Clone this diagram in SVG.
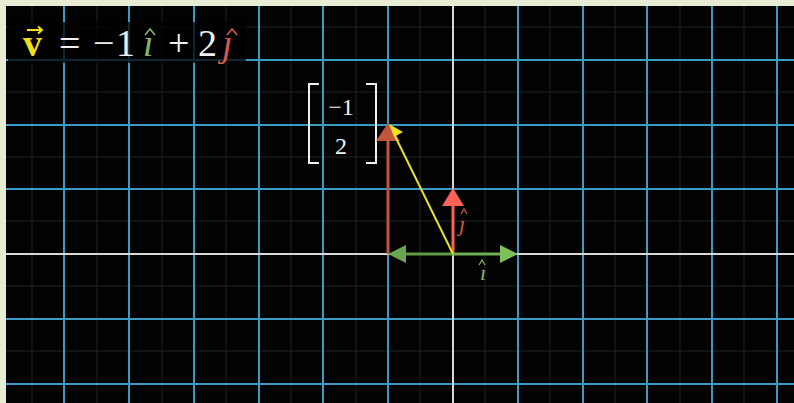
<svg xmlns="http://www.w3.org/2000/svg" width="794" height="403" viewBox="0 0 794 403">
<style>
.minor{stroke:#1e2426;stroke-width:1}
.major{stroke:#3a9cc4;stroke-width:2}
.axis{stroke:#d8d8d8;stroke-width:2}
.tex{font-family:"Liberation Serif","DejaVu Serif",serif}
.eq{font-size:38px}
</style>
<rect x="0" y="0" width="794" height="403" fill="#e8ebd3"/>
<rect x="6" y="6" width="788" height="397" fill="#020202"/>
<g id="grid">
<g class="minor">
<line x1="32" y1="6" x2="32" y2="403"/><line x1="97" y1="6" x2="97" y2="403"/><line x1="162" y1="6" x2="162" y2="403"/><line x1="226" y1="6" x2="226" y2="403"/><line x1="291" y1="6" x2="291" y2="403"/><line x1="356" y1="6" x2="356" y2="403"/><line x1="420" y1="6" x2="420" y2="403"/><line x1="485" y1="6" x2="485" y2="403"/><line x1="550" y1="6" x2="550" y2="403"/><line x1="615" y1="6" x2="615" y2="403"/><line x1="680" y1="6" x2="680" y2="403"/><line x1="744" y1="6" x2="744" y2="403"/>
<line x1="6" y1="27" x2="794" y2="27"/><line x1="6" y1="92" x2="794" y2="92"/><line x1="6" y1="157" x2="794" y2="157"/><line x1="6" y1="221" x2="794" y2="221"/><line x1="6" y1="286" x2="794" y2="286"/><line x1="6" y1="351" x2="794" y2="351"/>
</g>
<g class="major">
<line x1="64" y1="6" x2="64" y2="403"/><line x1="129" y1="6" x2="129" y2="403"/><line x1="194" y1="6" x2="194" y2="403"/><line x1="259" y1="6" x2="259" y2="403"/><line x1="323" y1="6" x2="323" y2="403"/><line x1="388" y1="6" x2="388" y2="403"/><line x1="518" y1="6" x2="518" y2="403"/><line x1="583" y1="6" x2="583" y2="403"/><line x1="647" y1="6" x2="647" y2="403"/><line x1="712" y1="6" x2="712" y2="403"/><line x1="777" y1="6" x2="777" y2="403"/>
<line x1="6" y1="60" x2="794" y2="60"/><line x1="6" y1="125" x2="794" y2="125"/><line x1="6" y1="189" x2="794" y2="189"/><line x1="6" y1="319" x2="794" y2="319"/><line x1="6" y1="384" x2="794" y2="384"/>
</g>
<g class="axis">
<line x1="453" y1="6" x2="453" y2="403"/><line x1="6" y1="254" x2="794" y2="254"/>
</g>
</g>
<g id="equation">
<rect x="8" y="22" width="238" height="41" fill="#000" fill-opacity="0.75"/>
<text class="tex eq" x="23" y="56" font-weight="bold" fill="#f2dc1e">v</text>
<path d="M27 30 H42 M38 26.5 L42 30 L38 33.5" stroke="#f2dc1e" stroke-width="2" fill="none"/>
<text class="tex eq" x="59" y="56" fill="#f0f0f0">=</text>
<text class="tex eq" x="93" y="56" fill="#f0f0f0">−</text>
<text class="tex eq" x="116" y="56" fill="#f0f0f0">1</text>
<text class="tex eq" x="143" y="56" font-style="italic" fill="#86b56a">ı</text>
<path d="M145 35 L150 29 L155 35" stroke="#86b56a" stroke-width="1.6" fill="none"/>
<text class="tex eq" x="168" y="56" fill="#f0f0f0">+</text>
<text class="tex eq" x="198" y="56" fill="#f0f0f0">2</text>
<text class="tex eq" x="222" y="56" font-style="italic" fill="#d9584a">ȷ</text>
<path d="M227 35 L232 29 L237 35" stroke="#d9584a" stroke-width="1.6" fill="none"/>
</g>
<g id="matrix">
<path d="M319 84 H309 V163 H319 M366 84 H376 V163 H366" stroke="#f0f0f0" stroke-width="2" fill="none"/>
<text class="tex" x="341" y="115" font-size="24" fill="#f0f0f0" text-anchor="middle">−1</text>
<text class="tex" x="341" y="154" font-size="24" fill="#f0f0f0" text-anchor="middle">2</text>
</g>
<g id="connectors">
<line x1="388" y1="254" x2="388" y2="138" stroke="#c0573c" stroke-width="3"/>
<polygon points="388,123 376,141 400,141" fill="#c0573c"/>
<line x1="453" y1="254" x2="453" y2="203" stroke="#fc6255" stroke-width="3"/>
<polygon points="453,188 442,206 464,206" fill="#fc6255"/>
<line x1="453" y1="254" x2="402" y2="254" stroke="#5f9a47" stroke-width="3"/>
<polygon points="388,254 406,245 406,263" fill="#6aa552"/>
<line x1="453" y1="254" x2="503" y2="254" stroke="#6fb055" stroke-width="3"/>
<polygon points="518,254 500,245 500,263" fill="#7ec05a"/>
<line x1="453" y1="254" x2="394" y2="134" stroke="#e8e030" stroke-width="2"/>
<polygon points="389,124 403,132 394,137" fill="#f0e020"/>
</g>
<g id="labels">
<text class="tex" x="459" y="231" font-size="22" font-style="italic" fill="#d9584a">ȷ</text>
<path d="M461 214 L464 209 L467 214" stroke="#d9584a" stroke-width="1.2" fill="none"/>
<text class="tex" x="480" y="280" font-size="22" font-style="italic" fill="#86b56a">ı</text>
<path d="M479 265 L482 260 L485 265" stroke="#86b56a" stroke-width="1.2" fill="none"/>
</g>
</svg>
